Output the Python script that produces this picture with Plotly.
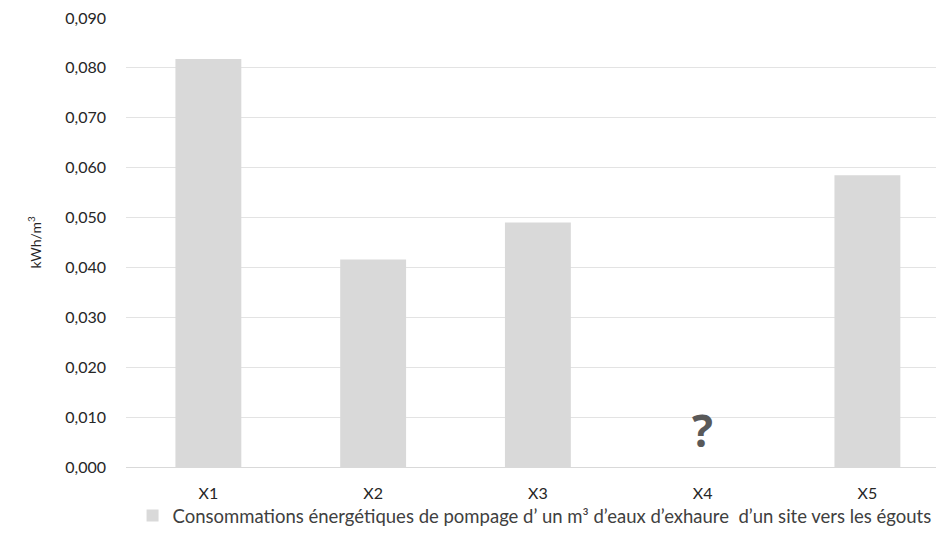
import plotly.graph_objects as go

# Valeurs
sites = ["X1", "X2", "X3", "X4", "X5"]
conso = [0.0818, 0.0416, 0.0490, None, 0.0585]
y_ticks = [0.0, 0.01, 0.02, 0.03, 0.04, 0.05, 0.06, 0.07, 0.08, 0.09]

nom_serie = "Consommations énergétiques de pompage d’ un m³ d’eaux d’exhaure  d’un site vers les égouts"

fig = go.Figure()
fig.add_trace(go.Bar(
    x=sites, y=conso, name=nom_serie,
    marker=dict(color="#d9d9d9", line=dict(width=0)),
    width=0.4,
    showlegend=True,
))

# point d'interrogation pour le site inconnu
fig.add_annotation(
    x="X4", y=0.0075, text="<b>?</b>", showarrow=False,
    font=dict(size=44, color="#595959", family="Open Sans"),
)

# la page ajoute ~8 px de marge autour de la figure
fig.update_layout(
    width=936, height=546,
    margin=dict(l=118, r=0, t=10, b=87),
    paper_bgcolor="white", plot_bgcolor="white",
    separators=", ",
    font=dict(family="Lato", size=16, color="#404040"),
    showlegend=True,
    legend=dict(
        orientation="h", x=0.008, xanchor="left", y=-0.109, yanchor="middle",
        bgcolor="rgba(0,0,0,0)",
        font=dict(size=18.5, color="#404040"),
    ),
    xaxis=dict(
        range=[-0.5, 4.465], showgrid=False, showline=True,
        linecolor="#d9d9d9", linewidth=1, ticks="",
        ticklabelstandoff=12,
        tickfont=dict(size=16, color="#262626"),
    ),
    yaxis=dict(
        range=[0, 0.09], tickvals=y_ticks, tickformat=".3f",
        showgrid=True, gridcolor="#e3e3e3", gridwidth=1,
        zeroline=False, showline=False, ticks="",
        ticklabelstandoff=19, ticklabeloverflow="allow",
        tickfont=dict(size=16, color="#262626"),
        title=dict(text="kWh/m<sup>3</sup>", font=dict(size=14, color="#262626"), standoff=20),
    ),
    bargap=0.6,
)

fig.write_html("out.html")
